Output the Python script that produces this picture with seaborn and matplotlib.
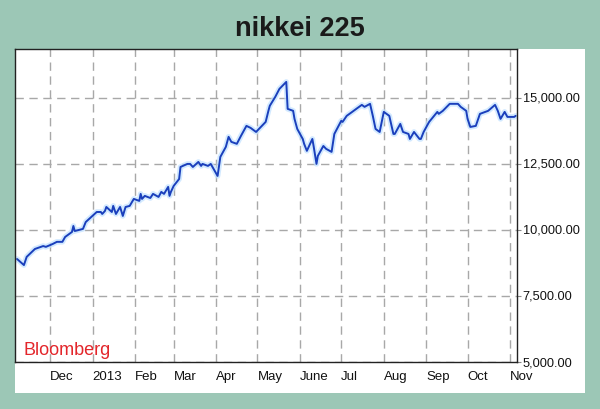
import pandas as pd
import matplotlib.pyplot as plt
import matplotlib.patches as patches
import seaborn as sns

# ================= DATA =================
DATES = [
    "2012-11-07", "2012-11-12", "2012-11-14", "2012-11-20", "2012-11-26", "2012-11-28",
    "2012-12-03", "2012-12-06", "2012-12-10", "2012-12-12", "2012-12-17", "2012-12-18",
    "2012-12-19", "2012-12-25", "2012-12-27", "2013-01-04", "2013-01-07", "2013-01-08",
    "2013-01-10", "2013-01-11", "2013-01-15", "2013-01-16", "2013-01-18", "2013-01-21",
    "2013-01-23", "2013-01-25", "2013-01-28", "2013-01-31", "2013-02-04", "2013-02-05",
    "2013-02-06", "2013-02-08", "2013-02-12", "2013-02-14", "2013-02-18", "2013-02-20",
    "2013-02-22", "2013-02-25", "2013-02-26", "2013-02-27", "2013-03-01", "2013-03-05",
    "2013-03-06", "2013-03-11", "2013-03-13", "2013-03-15", "2013-03-19", "2013-03-21",
    "2013-03-22", "2013-03-26", "2013-03-28", "2013-04-02", "2013-04-04", "2013-04-08",
    "2013-04-10", "2013-04-12", "2013-04-16", "2013-04-19", "2013-04-23", "2013-04-26",
    "2013-04-30", "2013-05-07", "2013-05-09", "2013-05-10", "2013-05-14", "2013-05-17",
    "2013-05-22", "2013-05-23", "2013-05-27", "2013-05-28", "2013-05-30", "2013-06-03",
    "2013-06-04", "2013-06-06", "2013-06-10", "2013-06-11", "2013-06-13", "2013-06-14",
    "2013-06-18", "2013-06-20", "2013-06-24", "2013-06-26", "2013-07-01", "2013-07-02",
    "2013-07-05", "2013-07-09", "2013-07-12", "2013-07-16", "2013-07-18", "2013-07-22",
    "2013-07-24", "2013-07-26", "2013-07-29", "2013-08-01", "2013-08-05", "2013-08-06",
    "2013-08-08", "2013-08-09", "2013-08-13", "2013-08-15", "2013-08-19", "2013-08-20",
    "2013-08-23", "2013-08-27", "2013-08-28", "2013-08-30", "2013-09-03", "2013-09-09",
    "2013-09-10", "2013-09-13", "2013-09-18", "2013-09-24", "2013-09-26", "2013-09-30",
    "2013-10-01", "2013-10-03", "2013-10-07", "2013-10-10", "2013-10-16", "2013-10-21",
    "2013-10-23", "2013-10-25", "2013-10-28", "2013-10-30", "2013-11-04", "2013-11-05",
]
CLOSE = [
    8900, 8670, 8980, 9280, 9390, 9360,
    9470, 9550, 9550, 9735, 9925, 10150,
    9960, 10040, 10300, 10680, 10680, 10605,
    10720, 10870, 10680, 10910, 10605, 10870,
    10530, 10870, 10910, 11175, 11100, 11365,
    11175, 11290, 11210, 11365, 11250, 11440,
    11365, 11630, 11290, 11440, 11665, 11930,
    12385, 12500, 12500, 12385, 12575, 12425,
    12500, 12425, 12500, 12045, 12765, 13145,
    13525, 13335, 13260, 13560, 13940, 13865,
    13710, 14090, 14510, 14700, 15040, 15340,
    15605, 14585, 14510, 14205, 13825, 13445,
    13260, 12995, 13445, 13145, 12500, 12805,
    13180, 13070, 12955, 13635, 14130, 14090,
    14320, 14470, 14585, 14735, 14660, 14775,
    14320, 13825, 13710, 14470, 14320, 14090,
    13635, 13635, 14015, 13710, 13635, 13445,
    13710, 13445, 13445, 13710, 14090, 14470,
    14395, 14510, 14775, 14775, 14660, 14510,
    14205, 13900, 13940, 14395, 14510, 14735,
    14510, 14205, 14470, 14280, 14280, 14320,
]
MONTH_STARTS = [
    "2012-12-01", "2013-01-01", "2013-02-01", "2013-03-01", "2013-04-01", "2013-05-01",
    "2013-06-01", "2013-07-01", "2013-08-01", "2013-09-01", "2013-10-01", "2013-11-01",
]
MONTH_LABELS = ["Dec", "2013", "Feb", "Mar", "Apr", "May", "June", "Jul", "Aug", "Sep", "Oct", "Nov"]
Y_TICKS = [5000, 7500, 10000, 12500, 15000]

# ================= STYLE =================
sns.set_style("white")
plt.rcParams['font.family'] = ['Liberation Sans', 'DejaVu Sans']

df = pd.DataFrame({"date": pd.to_datetime(DATES), "close": CLOSE})

fig = plt.figure(figsize=(6, 4.1), dpi=100, facecolor='#9cc7b6')
# white card behind the chart (drawn below the axes)
card = patches.Rectangle((0.025, 0.039), 0.95, 0.839, transform=fig.transFigure,
                         facecolor='white', edgecolor='none', zorder=-10)
fig.patches.append(card)
ax = fig.add_axes([0.025, 0.1146, 0.8367, 0.7634])
ax.set_facecolor('white')

# soft halo then the main line
sns.lineplot(data=df, x="date", y="close", ax=ax, color='#bfe0ff', linewidth=4, alpha=0.7)
sns.lineplot(data=df, x="date", y="close", ax=ax, color='#1a3fbc', linewidth=1.4)

ax.set_xlim(pd.Timestamp("2012-11-05 12:00"), pd.Timestamp("2013-11-06"))
ax.set_ylim(5000, 16850)

ax.set_xticks(pd.to_datetime(MONTH_STARTS))
ax.set_xticklabels(MONTH_LABELS, ha='left', fontsize=9.5, color='#111111')
ax.yaxis.tick_right()
ax.set_yticks(Y_TICKS)
ax.set_yticklabels([f"{v:,.2f}" for v in Y_TICKS], fontsize=9.2, color='#111111',
                   va='top')
ax.tick_params(axis='x', length=0, pad=6)
ax.tick_params(axis='y', right=True, length=3, color='#888888', pad=1)
for lab in ax.get_yticklabels():
    lab.set_verticalalignment('center')
ax.set_xlabel("")
ax.set_ylabel("")

ax.grid(True, color='#a8a8a8', linestyle=(0, (6, 4)), linewidth=1)
ax.set_axisbelow(True)
for s in ax.spines.values():
    s.set_visible(True)
    s.set_color('#222222')
    s.set_linewidth(1)

ax.text(0.016, 0.026, "Bloomberg", transform=ax.transAxes, color='#e3262b', fontsize=13,
        va='baseline', ha='left')
fig.text(0.5, 0.93, "nikkei 225", ha='center', va='center', fontsize=19.5, fontweight='bold',
         color='#1a1a1a')

fig.savefig("out.png", dpi=100, facecolor=fig.get_facecolor())
